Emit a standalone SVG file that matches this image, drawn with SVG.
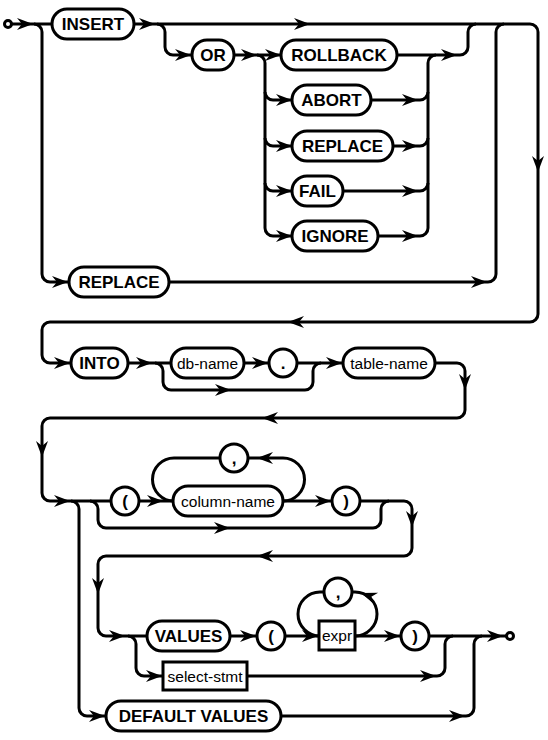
<svg xmlns="http://www.w3.org/2000/svg" xmlns:xlink="http://www.w3.org/1999/xlink" width="548" height="740" viewBox="0 0 548 740">
<style>
.l{fill:none;stroke:#000;stroke-width:3;stroke-linejoin:round}
.n{fill:#fff;stroke:#000;stroke-width:3}
.k{font-family:"Liberation Sans",Arial,sans-serif;font-weight:bold;font-size:17px;text-anchor:middle}
.t{font-family:"Liberation Sans",Arial,sans-serif;font-size:15.5px;text-anchor:middle}
</style>
<defs>
<path id="a" d="M0 0L-16 -6L-11 0L-16 6Z"/>
</defs>
<rect width="548" height="740" fill="#fff"/>
<g id="connectors">
<path class="l" d="M12 24H52"/>
<path class="l" d="M34 24A8 8 0 0 1 42 32V274A8 8 0 0 0 50 282H69"/>
<path class="l" d="M134 24H530A8 8 0 0 1 538 32V314A8 8 0 0 1 530 322H50A8 8 0 0 0 42 330V355A8 8 0 0 0 50 363H71"/>
<path class="l" d="M157 24A8 8 0 0 1 165 32V47A8 8 0 0 0 173 55H192"/>
<path class="l" d="M234 55H281"/>
<path class="l" d="M257 55A8 8 0 0 1 265 63V228A8 8 0 0 0 273 236H292"/>
<path class="l" d="M265 92A8 8 0 0 0 273 100H292M265 138A8 8 0 0 0 273 146H292M265 183A8 8 0 0 0 273 191H292"/>
<path class="l" d="M397 55H460A8 8 0 0 0 468 47V32A8 8 0 0 1 476 24"/>
<path class="l" d="M378 236H420A8 8 0 0 0 428 228V63A8 8 0 0 1 436 55"/>
<path class="l" d="M371 100H420A8 8 0 0 0 428 92M393 146H420A8 8 0 0 0 428 138M343 191H420A8 8 0 0 0 428 183"/>
<path class="l" d="M169 282H488A8 8 0 0 0 496 274V32A8 8 0 0 1 504 24"/>
<path class="l" d="M128 363H171"/>
<path class="l" d="M155 363A8 8 0 0 1 163 371V382A8 8 0 0 0 171 390H305A8 8 0 0 0 313 382V371A8 8 0 0 1 321 363"/>
<path class="l" d="M244 363H269"/>
<path class="l" d="M297 363H343"/>
<path class="l" d="M435 363H457A8 8 0 0 1 465 371V410A8 8 0 0 1 457 418H50A8 8 0 0 0 42 426V493A8 8 0 0 0 50 501H111"/>
<path class="l" d="M71 501A8 8 0 0 1 79 509V708A8 8 0 0 0 87 716H106"/>
<path class="l" d="M90 501A8 8 0 0 1 98 509V520A8 8 0 0 0 106 528H373A8 8 0 0 0 381 520V509A8 8 0 0 1 389 501"/>
<path class="l" d="M139 501H173"/>
<path class="l" d="M283 501A21.5 21.5 0 0 0 283 458H248M220 458H174A21.5 21.5 0 0 0 174 501"/>
<path class="l" d="M283 501H332"/>
<path class="l" d="M360 501H404A8 8 0 0 1 412 509V548A8 8 0 0 1 404 556H106A8 8 0 0 0 98 564V628A8 8 0 0 0 106 636H147"/>
<path class="l" d="M128 636A8 8 0 0 1 136 644V668A8 8 0 0 0 144 676H163"/>
<path class="l" d="M230 636H257"/>
<path class="l" d="M285 636H319"/>
<path class="l" d="M355 636A22 22 0 0 0 355 592H352M324 592H320A22 22 0 0 0 320 636"/>
<path class="l" d="M355 636H401"/>
<path class="l" d="M429 636H506"/>
<path class="l" d="M247 676H437A8 8 0 0 0 445 668V644A8 8 0 0 1 453 636"/>
<path class="l" d="M281 716H466A8 8 0 0 0 474 708V644A8 8 0 0 1 482 636"/>
<use xlink:href="#a" transform="translate(33 24)"/>
<use xlink:href="#a" transform="translate(155 24)"/>
<use xlink:href="#a" transform="translate(310 24)"/>
<use xlink:href="#a" transform="translate(191 55)"/>
<use xlink:href="#a" transform="translate(257 55)"/>
<use xlink:href="#a" transform="translate(281 55)"/>
<use xlink:href="#a" transform="translate(292 100)"/>
<use xlink:href="#a" transform="translate(292 146)"/>
<use xlink:href="#a" transform="translate(292 191)"/>
<use xlink:href="#a" transform="translate(292 236)"/>
<use xlink:href="#a" transform="translate(457 55)"/>
<use xlink:href="#a" transform="translate(418 100)"/>
<use xlink:href="#a" transform="translate(418 146)"/>
<use xlink:href="#a" transform="translate(418 191)"/>
<use xlink:href="#a" transform="translate(418 236)"/>
<use xlink:href="#a" transform="translate(68 282)"/>
<use xlink:href="#a" transform="translate(487 282)"/>
<use xlink:href="#a" transform="translate(538 172) rotate(90)"/>
<use xlink:href="#a" transform="translate(288 322) rotate(180)"/>
<use xlink:href="#a" transform="translate(70 363)"/>
<use xlink:href="#a" transform="translate(152 363)"/>
<use xlink:href="#a" transform="translate(231 390)"/>
<use xlink:href="#a" transform="translate(268 363)"/>
<use xlink:href="#a" transform="translate(342 363)"/>
<use xlink:href="#a" transform="translate(465 390) rotate(90)"/>
<use xlink:href="#a" transform="translate(262 418) rotate(180)"/>
<use xlink:href="#a" transform="translate(42 457) rotate(90)"/>
<use xlink:href="#a" transform="translate(70 501)"/>
<use xlink:href="#a" transform="translate(105 716)"/>
<use xlink:href="#a" transform="translate(230 528)"/>
<use xlink:href="#a" transform="translate(163 501)"/>
<use xlink:href="#a" transform="translate(257 458) rotate(180)"/>
<use xlink:href="#a" transform="translate(331 501)"/>
<use xlink:href="#a" transform="translate(412 527) rotate(90)"/>
<use xlink:href="#a" transform="translate(257 556) rotate(180)"/>
<use xlink:href="#a" transform="translate(98 594) rotate(90)"/>
<use xlink:href="#a" transform="translate(125 636)"/>
<use xlink:href="#a" transform="translate(162 676)"/>
<use xlink:href="#a" transform="translate(256 636)"/>
<use xlink:href="#a" transform="translate(318 636)"/>
<use xlink:href="#a" transform="translate(361 593) rotate(200)"/>
<use xlink:href="#a" transform="translate(400 636)"/>
<use xlink:href="#a" transform="translate(503 636)"/>
<use xlink:href="#a" transform="translate(436 676)"/>
<use xlink:href="#a" transform="translate(465 716)"/>
</g>
<g id="start"><circle class="n" cx="8" cy="24" r="3.5" stroke-width="2.5"/></g>
<g id="end"><circle class="n" cx="510" cy="636" r="3.5" stroke-width="2.5"/></g>
<g id="insert"><rect class="n" x="52" y="9" width="82" height="30" rx="15"/><text class="k" x="93" y="30">INSERT</text></g>
<g id="or"><rect class="n" x="192" y="40" width="42" height="30" rx="15"/><text class="k" x="213" y="61">OR</text></g>
<g id="rollback"><rect class="n" x="281" y="40" width="116" height="30" rx="15"/><text class="k" x="339" y="61">ROLLBACK</text></g>
<g id="abort"><rect class="n" x="292" y="85" width="79" height="30" rx="15"/><text class="k" x="331.5" y="106">ABORT</text></g>
<g id="replace1"><rect class="n" x="292" y="131" width="101" height="30" rx="15"/><text class="k" x="342.5" y="152">REPLACE</text></g>
<g id="fail"><rect class="n" x="292" y="176" width="51" height="30" rx="15"/><text class="k" x="317.5" y="197">FAIL</text></g>
<g id="ignore"><rect class="n" x="292" y="221" width="86" height="30" rx="15"/><text class="k" x="335" y="242">IGNORE</text></g>
<g id="replace2"><rect class="n" x="69" y="267" width="100" height="30" rx="15"/><text class="k" x="119" y="288">REPLACE</text></g>
<g id="into"><rect class="n" x="71" y="348" width="57" height="30" rx="15"/><text class="k" x="99.5" y="369">INTO</text></g>
<g id="db-name"><rect class="n" x="171" y="348" width="73" height="30" rx="15"/><text class="t" x="207.5" y="368.5">db-name</text></g>
<g id="dot"><circle class="n" cx="283" cy="363" r="14"/><text class="k" x="283" y="369">.</text></g>
<g id="table-name"><rect class="n" x="343" y="348" width="92" height="30" rx="15"/><text class="t" x="389" y="368.5">table-name</text></g>
<g id="lparen1"><circle class="n" cx="125" cy="501" r="14"/><text class="k" x="125" y="507">(</text></g>
<g id="comma1"><circle class="n" cx="234" cy="458" r="14"/><text class="k" x="234" y="464">,</text></g>
<g id="column-name"><rect class="n" x="173" y="486" width="110" height="30" rx="15"/><text class="t" x="228" y="506.5">column-name</text></g>
<g id="rparen1"><circle class="n" cx="346" cy="501" r="14"/><text class="k" x="346" y="507">)</text></g>
<g id="values"><rect class="n" x="147" y="621" width="83" height="30" rx="15"/><text class="k" x="188.5" y="642">VALUES</text></g>
<g id="lparen2"><circle class="n" cx="271" cy="636" r="14"/><text class="k" x="271" y="642">(</text></g>
<g id="comma2"><circle class="n" cx="338" cy="592" r="14"/><text class="k" x="338" y="598">,</text></g>
<g id="expr"><rect class="n" x="319" y="621" width="36" height="29"/><text class="t" x="337" y="641">expr</text></g>
<g id="rparen2"><circle class="n" cx="415" cy="636" r="14"/><text class="k" x="415" y="642">)</text></g>
<g id="select-stmt"><rect class="n" x="163" y="662" width="84" height="28"/><text class="t" x="205" y="681.5">select-stmt</text></g>
<g id="default-values"><rect class="n" x="106" y="701" width="175" height="30" rx="15"/><text class="k" x="193.5" y="722">DEFAULT VALUES</text></g>
</svg>
